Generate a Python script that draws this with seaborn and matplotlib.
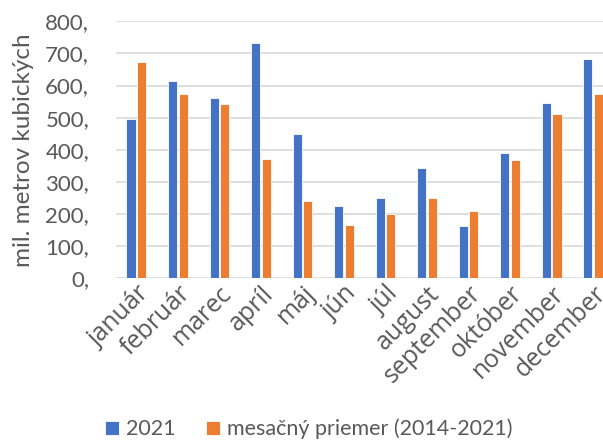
import pandas as pd
import matplotlib.pyplot as plt
import seaborn as sns
from matplotlib.ticker import FuncFormatter

# data
mesiace = ['január', 'február', 'marec', 'apríl', 'máj', 'jún', 'júl',
           'august', 'september', 'október', 'november', 'december']
rok_2021 = [497, 613, 560, 732, 449, 224, 251, 343, 164, 390, 546, 683]
priemer = [673, 575, 542, 370, 242, 165, 200, 250, 209, 369, 511, 574]
serie = ['2021', 'mesačný priemer (2014-2021)']

df = pd.DataFrame({
    'mesiac': mesiace * 2,
    'hodnota': rok_2021 + priemer,
    'seria': [serie[0]] * len(mesiace) + [serie[1]] * len(mesiace),
})

sns.set_style('white')
plt.rcParams['font.family'] = ['Lato', 'DejaVu Sans']
text_color = '#595959'

fig = plt.figure(figsize=(6.03, 4.41), dpi=100)
ax = fig.add_axes([115.5 / 603, 1 - 278.3 / 441, (614 - 115.5) / 603, (278.3 - 21.3) / 441])

sns.barplot(data=df, x='mesiac', y='hodnota', hue='seria', order=mesiace,
            palette=['#4472C4', '#ED7D31'], saturation=1, width=0.51, gap=0.14,
            edgecolor='white', linewidth=0.6, ax=ax, legend=True, zorder=3)

ax.set_ylim(0, 800)
ax.set_yticks(range(0, 801, 100))
ax.yaxis.set_major_formatter(FuncFormatter(lambda v, p: f'{int(v)},'))
ax.grid(axis='y', color='#D9D9D9', linewidth=1.2, zorder=0)
ax.set_axisbelow(True)
for s in ax.spines.values():
    s.set_visible(False)
ax.tick_params(axis='both', length=0, colors=text_color)
ax.tick_params(axis='y', pad=19, labelsize=16)
ax.tick_params(axis='x', pad=2)
plt.setp(ax.get_xticklabels(), rotation=45, ha='right', rotation_mode='anchor',
         family=['Open Sans', 'DejaVu Sans'], fontsize=18)

ax.set_xlabel('')
ax.set_ylabel('mil. metrov kubických', fontsize=17.5, color=text_color, labelpad=8)

handles, labels = ax.get_legend_handles_labels()
ax.legend_.remove()
fig.legend(handles, labels, loc='center left', bbox_to_anchor=(105 / 603, 1 - 429 / 441),
           ncol=2, frameon=False, fontsize=15.5, labelcolor=text_color,
           borderpad=0, borderaxespad=0,
           handlelength=0.65, handleheight=0.65, handletextpad=0.33, columnspacing=1.4)

fig.savefig('out.png', dpi=100)
